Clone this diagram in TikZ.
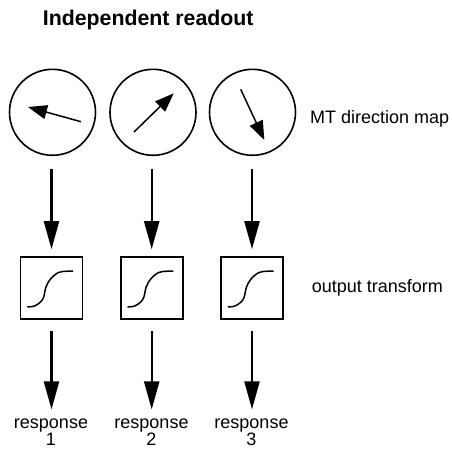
\documentclass[tikz,border=0pt]{standalone}
\usepackage{fontspec}
\setmainfont{Liberation Sans}
\usetikzlibrary{arrows.meta}
\begin{document}
\begin{tikzpicture}[x=1pt,y=-1pt,
  dial/.style={draw,circle,line width=1.6pt,minimum size=86pt,inner sep=0pt},
  tbox/.style={draw,rectangle,line width=1.6pt,minimum size=62pt,inner sep=0pt},
  flow/.style={line width=2.2pt,-{Triangle[length=28pt,width=15pt]}},
  needle/.style={line width=1.5pt,-{Triangle[length=19pt,width=14pt]}},
  sig/.style={line width=1.5pt,line cap=round},
  lbl/.style={inner sep=0pt,font=\fontsize{18}{18}\selectfont},
  ttl/.style={inner sep=0pt,font=\fontsize{21.3}{22}\selectfont\bfseries}]
\useasboundingbox (0,0) rectangle (452,448);
\node[ttl,anchor=base west] (title) at (42.7,25) {Independent readout};
% dials
\node[dial] (c1) at (52.5,112.3) {};
\node[dial] (c2) at (153,112.3) {};
\node[dial] (c3) at (252.5,112.3) {};
\draw[needle,shift={(c1.center)}] (28.5,9.4) -- (-24.5,-5.3);
\draw[needle,shift={(c2.center)}] (-19,19.7) -- (20.7,-19);
\draw[needle,shift={(c3.center)}] (-11.8,-23) -- (11.8,27.7);
\node[lbl,anchor=base west] (mt) at (310,123.5) {MT direction map};
% boxes
\node[tbox] (b1) at (51.5,288) {};
\node[tbox] (b2) at (151.7,288) {};
\node[tbox] (b3) at (252,288) {};
\foreach \b in {b1,b2,b3}{
  \draw[sig,shift={(\b.center)}] plot[smooth,tension=0.6] coordinates
    {(-23.8,18.9) (-17,18) (-11,14) (-7.8,9) (-5.5,-1) (-1,-9) (7,-15.5) (15.5,-16.8) (21.2,-16.8)};
}
\node[lbl,anchor=base west] (ot) at (311.7,292.5) {output transform};
% responses
\node[lbl,anchor=base] (r1) at (51,428.3) {response};
\node[lbl,anchor=base] (r2) at (151.5,428.3) {response};
\node[lbl,anchor=base] (r3) at (251.5,428.3) {response};
\node[lbl,anchor=base] (n1) at (51,445.7) {1};
\node[lbl,anchor=base] (n2) at (151.5,445.7) {2};
\node[lbl,anchor=base] (n3) at (251.5,445.7) {3};
% connectors
\foreach \i in {1,2,3}{
  \draw[flow,shorten <=12.7pt,shorten >=7pt] (c\i.south -| b\i.north) -- (b\i.north);
  \draw[flow,shorten <=11pt] (b\i.south) -- ([yshift=9pt]b\i.south |- r\i.north);
}
\end{tikzpicture}
\end{document}
